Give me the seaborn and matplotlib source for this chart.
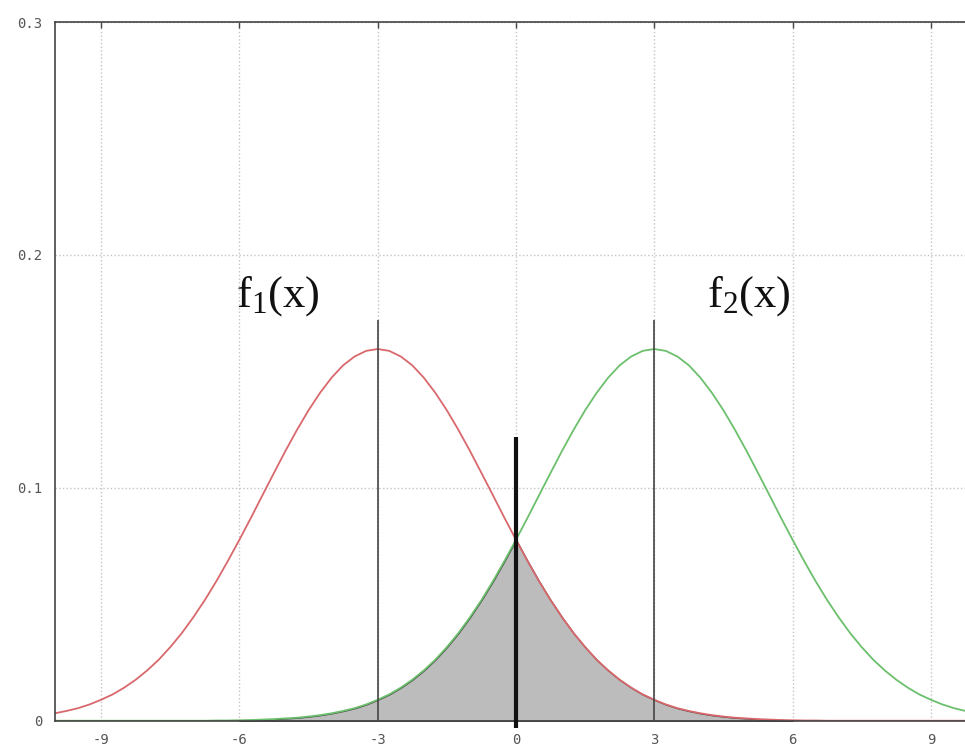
import numpy as np
import pandas as pd
import matplotlib
matplotlib.use("Agg")
import matplotlib.pyplot as plt
import seaborn as sns

# --- data ---------------------------------------------------------
x_vals = [-10.0, -9.75, -9.5, -9.25, -9.0, -8.75, -8.5, -8.25,
          -8.0, -7.75, -7.5, -7.25, -7.0, -6.75, -6.5, -6.25,
          -6.0, -5.75, -5.5, -5.25, -5.0, -4.75, -4.5, -4.25,
          -4.0, -3.75, -3.5, -3.25, -3.0, -2.75, -2.5, -2.25,
          -2.0, -1.75, -1.5, -1.25, -1.0, -0.75, -0.5, -0.25,
          0.0, 0.25, 0.5, 0.75, 1.0, 1.25, 1.5, 1.75,
          2.0, 2.25, 2.5, 2.75, 3.0, 3.25, 3.5, 3.75,
          4.0, 4.25, 4.5, 4.75, 5.0, 5.25, 5.5, 5.75,
          6.0, 6.25, 6.5, 6.75, 7.0, 7.25, 7.5, 7.75,
          8.0, 8.25, 8.5, 8.75, 9.0, 9.25, 9.5, 9.75,
          10.0]

f1_vals = [0.0032, 0.0042, 0.0054, 0.0070, 0.0090, 0.0113, 0.0142, 0.0176,
           0.0216, 0.0262, 0.0316, 0.0376, 0.0444, 0.0518, 0.0599, 0.0686,
           0.0777, 0.0871, 0.0968, 0.1064, 0.1159, 0.1249, 0.1333, 0.1408,
           0.1473, 0.1526, 0.1564, 0.1588, 0.1596, 0.1588, 0.1564, 0.1526,
           0.1473, 0.1408, 0.1333, 0.1249, 0.1159, 0.1064, 0.0968, 0.0871,
           0.0777, 0.0686, 0.0599, 0.0518, 0.0444, 0.0376, 0.0316, 0.0262,
           0.0216, 0.0176, 0.0142, 0.0113, 0.0090, 0.0070, 0.0054, 0.0042,
           0.0032, 0.0024, 0.0018, 0.0013, 0.0010, 0.0007, 0.0005, 0.0003,
           0.0002, 0.0001, 0.0001, 0.0, 0.0, 0.0, 0.0, 0.0,
           0.0, 0.0, 0.0, 0.0, 0.0, 0.0, 0.0, 0.0,
           0.0]

f2_vals = [0.0, 0.0, 0.0, 0.0, 0.0, 0.0, 0.0, 0.0,
           0.0, 0.0, 0.0, 0.0, 0.0, 0.0, 0.0001, 0.0001,
           0.0002, 0.0003, 0.0005, 0.0007, 0.0010, 0.0013, 0.0018, 0.0024,
           0.0032, 0.0042, 0.0054, 0.0070, 0.0090, 0.0113, 0.0142, 0.0176,
           0.0216, 0.0262, 0.0316, 0.0376, 0.0444, 0.0518, 0.0599, 0.0686,
           0.0777, 0.0871, 0.0968, 0.1064, 0.1159, 0.1249, 0.1333, 0.1408,
           0.1473, 0.1526, 0.1564, 0.1588, 0.1596, 0.1588, 0.1564, 0.1526,
           0.1473, 0.1408, 0.1333, 0.1249, 0.1159, 0.1064, 0.0968, 0.0871,
           0.0777, 0.0686, 0.0599, 0.0518, 0.0444, 0.0376, 0.0316, 0.0262,
           0.0216, 0.0176, 0.0142, 0.0113, 0.0090, 0.0070, 0.0054, 0.0042,
           0.0032]

shade_from, shade_to = -6.0, 6.0          # grey overlap region
vline_x = [-3.0, 3.0]                       # means
vline_top = [0.172, 0.172]
cut_x, cut_top = 0.0, 0.122                 # decision threshold

x_ticks = [-9, -6, -3, 0, 3, 6, 9]
x_ticklabels = ["-9", "-6", "-3", "0", "3", "6", "9"]
y_ticks = [0, 0.1, 0.2, 0.3]
y_ticklabels = ["0", "0.1", "0.2", "0.3"]

df = pd.DataFrame({"x": x_vals, "f1": f1_vals, "f2": f2_vals})

# --- style ---------------------------------------------------------
sns.set_style("white")
plt.rcParams["font.family"] = ["DejaVu Sans Mono", "DejaVu Sans"]
plt.rcParams["mathtext.fontset"] = "custom"
plt.rcParams["mathtext.rm"] = "Liberation Serif"
plt.rcParams["mathtext.it"] = "Liberation Serif"

fig = plt.figure(figsize=(9.65, 7.51), dpi=100)
ax = fig.add_axes([0.057, 0.0403, 0.9554, 0.9304])

# shaded overlap (min of the two curves)
sub = df[(df["x"] >= shade_from) & (df["x"] <= shade_to)]
ax.fill_between(sub["x"], 0, np.minimum(sub["f1"], sub["f2"]),
                facecolor="#bcbcbc", edgecolor="#3a3a3a", linewidth=1.0, zorder=1)

sns.lineplot(data=df, x="x", y="f1", color="#d9686c", linewidth=1.3, ax=ax, zorder=2)
sns.lineplot(data=df, x="x", y="f2", color="#6cbf6c", linewidth=1.3, ax=ax, zorder=2)

ax.vlines(vline_x, 0, vline_top, color="#444444", linewidth=1.2, zorder=3)
ax.vlines([cut_x], -0.003, cut_top, color="#111111", linewidth=3, zorder=4, clip_on=False)

ax.text(-6.08, 0.178, r"$\mathrm{f_1(x)}$", fontsize=32, color="#111111")
ax.text(4.15, 0.178, r"$\mathrm{f_2(x)}$", fontsize=32, color="#111111")

# --- axes ----------------------------------------------------------
ax.set_xlim(-10, 10)
ax.set_ylim(0, 0.3)
ax.set_xticks(x_ticks)
ax.set_xticklabels(x_ticklabels)
ax.set_yticks(y_ticks)
ax.set_yticklabels(y_ticklabels)
ax.set_xlabel("")
ax.set_ylabel("")
ax.grid(True, linestyle=":", color="#c4c4c4", linewidth=1.0)
ax.tick_params(direction="in", length=4, width=1, color="#444444",
               labelsize=10, labelcolor="#555555", top=True, right=True)
ax.tick_params(axis="x", pad=9)
ax.tick_params(axis="y", pad=9)
for s in ax.spines.values():
    s.set_color("#444444")
    s.set_linewidth(1.2)

fig.savefig("out.png", dpi=100)
